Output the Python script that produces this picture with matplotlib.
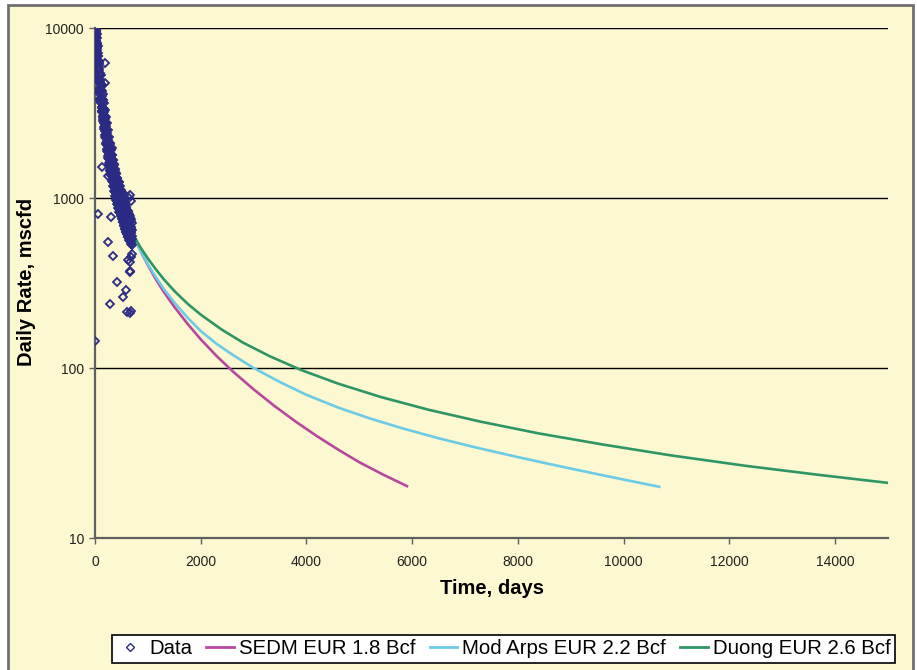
import matplotlib
matplotlib.use("Agg")
import matplotlib.pyplot as plt
from matplotlib.patches import Rectangle
from matplotlib.lines import Line2D
from matplotlib.ticker import NullLocator
from matplotlib import font_manager

plt.rcParams['font.family'] = ['Liberation Sans', 'DejaVu Sans']

# ---------------- data ----------------
data_days = [
    0, 10, 20, 30, 40, 50, 60, 70, 80, 90, 100, 110, 120, 130, 140, 150, 160, 170, 180, 190,
    200, 210, 220, 230, 240, 250, 260, 270, 280, 290, 300, 310, 320, 330, 340, 350, 360, 370,
    380, 390, 400, 410, 420, 430, 440, 450, 460, 470, 480, 490, 500, 510, 520, 530, 540, 550,
    560, 570, 580, 590, 600, 610, 620, 630, 640, 650, 660, 670, 680, 690, 700,
    5, 15, 25, 35, 45, 55, 65, 75, 85, 95, 105, 115, 125, 135, 145, 155, 165, 175, 185, 195,
    205, 215, 225, 235, 245, 255, 265, 275, 285, 295, 305, 315, 325, 335, 345, 355, 365, 375,
    385, 395, 405, 415, 425, 435, 445, 455, 465, 475, 485, 495, 505, 515, 525, 535, 545, 555,
    565, 575, 585, 595, 605, 615, 625, 635, 645, 655, 665, 675, 685, 695,
    3, 13, 23, 33, 43, 53, 63, 73, 83, 93, 103, 113, 123, 133, 143, 153, 163, 173, 183, 193,
    203, 213, 223, 233, 243, 253, 263, 273, 283, 293, 303, 313, 323, 333, 343, 353, 363, 373,
    383, 393, 403, 413, 423, 433, 443, 453, 463, 473, 483, 493, 503, 513, 523, 533, 543, 553,
    563, 573, 583, 593, 603, 613, 623, 633, 643, 653, 663, 673, 683, 693,
    7, 17, 27, 37, 47, 57, 67, 77, 87, 97, 107, 117, 127, 137, 147, 157, 167, 177, 187, 197,
    207, 217, 227, 237, 247, 257, 267, 277, 287, 297, 307, 317, 327, 337, 347, 357, 367, 377,
    387, 397, 407, 417, 427, 437, 447, 457, 467, 477, 487, 497, 507, 517, 527, 537, 547, 557,
    567, 577, 587, 597, 607, 617, 627, 637, 647, 657, 667, 677, 687, 697,
    1, 11, 21, 31, 41, 51, 61, 71, 81, 91, 101, 111, 121, 131, 141, 151, 161, 171, 181, 191,
    201, 211, 221, 231, 241, 251, 261, 271, 281, 291, 301, 311, 321, 331, 341, 351, 361, 371,
    381, 391, 401, 411, 421, 431, 441, 451, 461, 471, 481, 491, 501, 511, 521, 531, 541, 551,
    561, 571, 581, 591, 601, 611, 621, 631, 641, 651, 661, 671, 681, 691,
    189, 189, 157, 315, 126, 63, 297, 252, 347, 662, 655, 410, 586, 523, 284, 599, 662, 681,
    0, 630, 681, 530, 662, 0, 640, 690, 670, 700, 8, 18, 28, 240, 460, 560,
]
data_rate = [
    9500, 9100, 8400, 8100, 7100, 6800, 5900, 5700, 5000, 4900, 4400, 4300, 3800, 3750, 3400,
    3350, 3000, 3000, 2750, 2700, 2500, 2480, 2250, 2230, 2050, 2030, 1880, 1850, 1720, 1700,
    1580, 1590, 1470, 1470, 1370, 1380, 1290, 1290, 1200, 1210, 1140, 1150, 1080, 1090, 1020,
    1030, 970, 975, 925, 935, 885, 895, 845, 855, 805, 815, 770, 785, 740, 755, 705, 725, 690,
    700, 670, 675, 640, 650, 620, 630, 600,
    9900, 9800, 9500, 9200, 8700, 7800, 7100, 6400, 6200, 5400, 5300, 4700, 4600, 4250, 4100,
    3750, 3600, 3350, 3300, 3050, 3000, 2750, 2750, 2500, 2500, 2300, 2280, 2100, 2080, 1920,
    1930, 1790, 1780, 1680, 1670, 1580, 1560, 1480, 1470, 1400, 1390, 1320, 1310, 1250, 1240,
    1180, 1170, 1120, 1110, 1070, 1060, 1020, 1010, 990, 970, 950, 930, 910, 890, 870, 850,
    840, 825, 810, 790, 780, 760, 750, 730, 715,
    8000, 7700, 7100, 6800, 6100, 5700, 5100, 4800, 4300, 4100, 3750, 3600, 3250, 3200, 2900,
    2850, 2600, 2550, 2350, 2300, 2120, 2080, 1930, 1890, 1760, 1720, 1600, 1570, 1470, 1450,
    1360, 1340, 1260, 1250, 1170, 1160, 1100, 1090, 1030, 1020, 975, 965, 925, 915, 875, 865,
    830, 820, 795, 785, 760, 750, 725, 720, 690, 685, 660, 660, 635, 635, 610, 610, 590, 590,
    570, 570, 555, 550, 535, 530,
    9700, 9400, 8900, 8200, 7600, 6800, 6200, 5800, 5300, 4950, 4600, 4300, 4000, 3800, 3600,
    3400, 3200, 3050, 2900, 2780, 2640, 2510, 2400, 2280, 2180, 2080, 1990, 1910, 1830, 1760,
    1700, 1630, 1570, 1520, 1470, 1420, 1380, 1330, 1290, 1250, 1220, 1180, 1150, 1120, 1090,
    1060, 1030, 1010, 985, 965, 940, 920, 900, 880, 860, 840, 825, 805, 790, 775, 760, 745,
    735, 720, 710, 695, 685, 675, 665, 650,
    8800, 8400, 7900, 7400, 6800, 6200, 5700, 5200, 4850, 4450, 4200, 3900, 3650, 3450, 3250,
    3050, 2880, 2750, 2600, 2480, 2370, 2260, 2150, 2050, 1950, 1860, 1780, 1700, 1630, 1560,
    1510, 1450, 1400, 1350, 1300, 1260, 1220, 1180, 1140, 1110, 1080, 1050, 1020, 995, 965,
    940, 915, 895, 875, 855, 835, 820, 800, 780, 765, 745, 730, 715, 700, 690, 670, 660, 650,
    640, 630, 620, 605, 595, 585, 575,
    6250, 4770, 3770, 1960, 1514, 805, 770, 553, 455, 374, 368, 322, 289, 262, 237, 214, 212, 216,
    144, 432, 450, 1070, 1040, 3980, 1000, 960, 420, 470, 9800, 9700, 9600, 1350, 1250, 980,
]

sedm_days = [725, 800, 900, 1000, 1150, 1300, 1500, 1750, 2000, 2300, 2600, 3000, 3400, 3800,
             4200, 4600, 5000, 5450, 5900]
sedm_rate = [606, 536, 462, 403, 333, 281, 229, 182, 147.5, 117.6, 95.9, 74.9, 59.6, 48.3,
             39.7, 33.1, 27.9, 23.6, 20.2]

arps_days = [725, 850, 1000, 1150, 1300, 1500, 1750, 2000, 2300, 2600, 3000, 3500, 4000, 4600,
             5200, 5800, 6500, 7200, 8000, 8800, 9600, 10674]
arps_rate = [606, 495, 407, 343, 292, 243, 198, 165, 138.7, 119.7, 100, 82.6, 69.5, 58.5,
             50.5, 44.3, 38.6, 34.1, 29.9, 26.4, 23.4, 20.0]

duong_days = [0, 8, 100, 300, 500, 725, 850, 1000, 1150, 1300, 1500, 1750, 2000, 2400, 2800,
              3300, 3900, 4600, 5400, 6300, 7300, 8400, 9600, 10900, 12300, 13700, 15000]
duong_rate = [3700, 9000, 4500, 1600, 900, 606, 518, 441, 381, 333, 284, 239, 206, 168, 141,
              117.5, 97.3, 80.9, 67.6, 56.9, 48.3, 41.2, 35.5, 30.6, 26.6, 23.5, 21.1]

x_ticks = [0, 2000, 4000, 6000, 8000, 10000, 12000, 14000]
y_ticks = [10, 100, 1000, 10000]
y_tick_labels = ['10', '100', '1000', '10000']

legend_labels = ['Data', 'SEDM EUR 1.8 Bcf', 'Mod Arps EUR 2.2 Bcf', 'Duong EUR 2.6 Bcf']

# ---------------- styling ----------------
BG = '#FCF8D2'
NAVY = '#2B2B85'
MAGENTA = '#B8479E'
CYAN = '#6CCBE6'
GREEN = '#2E9565'

installed = {f.name for f in font_manager.fontManager.ttflist}
TICK_FAMILY = ['Liberation Sans Narrow'] if 'Liberation Sans Narrow' in installed else ['Liberation Sans']

W, H = 917, 670
fig = plt.figure(figsize=(W / 100, H / 100), dpi=100)
fig.patch.set_facecolor('white')
fig.patches.append(Rectangle((8 / W, -0.02), (913 - 8) / W, 1 - 5 / H + 0.02,
                             transform=fig.transFigure, facecolor=BG,
                             edgecolor='#707070', linewidth=2, zorder=-5))

ax = fig.add_axes([95 / W, 1 - 538 / H, (888 - 95) / W, (538 - 28) / H])
ax.set_facecolor('none')

ax.plot(sedm_days, sedm_rate, color=MAGENTA, lw=1.9, zorder=2)
ax.plot(arps_days, arps_rate, color=CYAN, lw=1.9, zorder=2)
ax.plot(duong_days, duong_rate, color=GREEN, lw=1.9, zorder=2)
ax.plot(data_days, data_rate, linestyle='none', marker='D', markersize=4.4,
        markerfacecolor='none', markeredgecolor=NAVY, markeredgewidth=1.3, zorder=3)

ax.set_yscale('log')
ax.set_xlim(0, 15000)
ax.set_ylim(10, 10000)
ax.set_xticks(x_ticks)
ax.set_xticklabels([str(v) for v in x_ticks])
ax.set_yticks(y_ticks)
ax.set_yticklabels(y_tick_labels)
ax.yaxis.set_minor_locator(NullLocator())
ax.grid(axis='y', which='major', color='black', lw=1.0, zorder=1)
ax.set_axisbelow(True)

for s in ['top', 'right']:
    ax.spines[s].set_visible(False)
for s in ['left', 'bottom']:
    ax.spines[s].set_color('#606060')
    ax.spines[s].set_linewidth(1.6)
ax.tick_params(axis='both', direction='out', length=4, width=1, color='#606060',
               labelsize=10, labelcolor='#222222', pad=4)
ax.tick_params(axis='x', pad=8)
for lab in ax.get_xticklabels() + ax.get_yticklabels():
    lab.set_family(TICK_FAMILY)

fig.text(27 / W, 1 - 282 / H, 'Daily Rate, mscfd', rotation=90, fontsize=14.5,
         fontweight='bold', ha='center', va='center')
fig.text(492 / W, 1 - 589 / H, 'Time, days', fontsize=14.5, fontweight='bold',
         ha='center', va='center')

handles = [
    Line2D([], [], linestyle='none', marker='D', markersize=4, markerfacecolor='none',
           markeredgecolor=NAVY, markeredgewidth=1.0),
    Line2D([], [], color=MAGENTA, lw=2),
    Line2D([], [], color=CYAN, lw=2),
    Line2D([], [], color=GREEN, lw=2),
]
leg = fig.legend(handles, legend_labels, loc='center', bbox_to_anchor=(503.5 / W, 1 - 649 / H),
                 ncol=4, fontsize=14.7, frameon=True, fancybox=False, framealpha=1,
                 edgecolor='black', facecolor='white', handlelength=1.35, handletextpad=0.25,
                 columnspacing=0.7, borderpad=0.22, borderaxespad=0)
leg.get_frame().set_linewidth(1.2)

fig.savefig('out.png', dpi=100, facecolor='white')
